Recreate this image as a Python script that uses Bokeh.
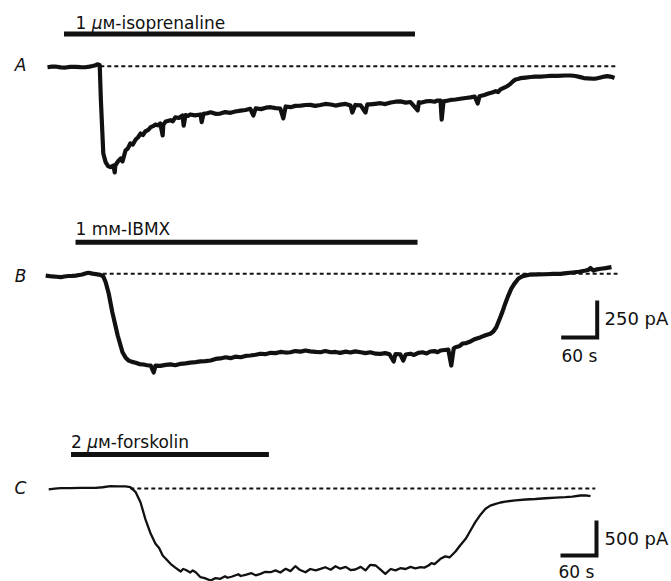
from bokeh.plotting import figure
from bokeh.models import Range1d
from bokeh.embed import file_html
from bokeh.resources import INLINE
from bokeh.core.properties import value

# ---------------- data (time in s, membrane current in pA) ----------------
# Trace A: 1 uM isoprenaline
a_t = [0, 7, 13, 22, 30, 38, 47, 55, 63, 70, 75, 80, 83, 87,
       89, 93, 97, 101, 105, 110, 112, 113, 118, 122, 125, 130, 134, 138, 142, 147,
       151, 155, 159, 163, 168, 172, 176, 180, 184, 188, 192, 193, 197, 205, 209,
       213, 219, 225, 227, 230, 234, 238, 246, 255, 257, 260, 266, 272, 280, 288,
       296, 305, 313, 322, 330, 338, 343, 347, 356, 364, 372, 380, 388, 393, 397,
       405, 413, 422, 430, 438, 446, 455, 463, 472, 480, 488, 497, 505, 508, 513,
       522, 530, 533, 538, 546, 555, 563, 572, 580, 588, 597, 605, 617, 619, 622,
       630, 638, 645, 650, 655, 657, 660, 666, 672, 680, 688, 697, 705, 712, 717,
       720, 728, 735, 741, 747, 751, 755, 763, 768, 772, 776, 780, 784, 788, 797,
       805, 813, 822, 830, 838, 850, 863, 872, 880, 888, 894, 900, 910, 916, 922,
       928, 933, 940, 945]
a_i = [-7, -3, -2, -8, -9, -5, -4, -6, -7, -3, 1, 6, 13, 8,
       -232, -590, -650, -675, -682, -671, -718, -671, -640, -624, -644, -570, -555, -522, -530, -495,
       -480, -455, -465, -441, -430, -412, -405, -394, -400, -387, -468, -395, -374, -365, -372,
       -345, -350, -333, -401, -330, -336, -326, -332, -326, -378, -322, -318, -311, -322, -320,
       -310, -315, -306, -300, -296, -288, -333, -285, -290, -280, -277, -283, -286, -353, -272,
       -277, -268, -266, -262, -261, -268, -262, -255, -259, -266, -260, -255, -265, -313, -262,
       -265, -313, -258, -258, -254, -250, -256, -245, -240, -238, -246, -242, -298, -243, -247,
       -238, -235, -240, -232, -232, -361, -238, -233, -228, -225, -220, -215, -211, -205, -252,
       -203, -195, -185, -178, -169, -175, -157, -142, -130, -117, -102, -90, -86, -81, -77,
       -73, -71, -70, -68, -66, -65, -63, -63, -66, -74, -80, -82, -85, -82, -76,
       -70, -67, -72, -79]

# Trace B: 1 mM IBMX
b_t = [-3, 8, 15, 22, 28, 35, 41, 47, 53, 58, 63, 68, 73, 78, 83, 88,
       93, 97, 102, 108, 117, 125, 130, 135, 141, 147, 153, 160, 166, 172, 177,
       180, 188, 197, 205, 213, 222, 230, 238, 247, 255, 263, 272, 280, 288, 297,
       305, 313, 322, 330, 338, 347, 355, 363, 372, 380, 388, 397, 405, 413, 422,
       430, 438, 447, 455, 463, 472, 480, 488, 497, 505, 513, 522, 530, 538, 547,
       555, 563, 570, 577, 580, 588, 593, 597, 605, 611, 618, 625, 632, 638, 645,
       650, 655, 662, 668, 673, 677, 680, 686, 692, 698, 705, 713, 722, 730, 738,
       743, 748, 753, 758, 763, 768, 773, 778, 785, 792, 805, 818, 830, 843, 855,
       865, 875, 886, 897, 902, 905, 910, 916, 922, 930, 940]
b_i = [-12, -18, -20, -23, -18, -15, -14, -12, -8, -5, 2, 7, 3, -1, -4, -7,
       -18, -57, -133, -259, -417, -530, -565, -586, -595, -601, -610, -613, -618, -620, -667,
       -620, -622, -615, -612, -618, -608, -605, -600, -597, -592, -590, -586, -575, -572, -564,
       -570, -560, -564, -555, -552, -547, -540, -543, -534, -536, -528, -532, -530, -522, -526,
       -518, -524, -528, -530, -522, -530, -528, -534, -526, -532, -524, -530, -536, -530, -540,
       -541, -536, -544, -593, -542, -545, -586, -545, -540, -548, -534, -530, -538, -525, -522,
       -530, -518, -515, -512, -620, -505, -496, -490, -471, -468, -457, -440, -428, -415, -405,
       -390, -361, -310, -259, -200, -147, -100, -68, -32, -16, -5, -4, -3, -1, 0,
       5, 9, 14, 22, 28, 39, 22, 30, 34, 38, 45]

# Trace C: 2 uM forskolin
c_t = [2, 12, 22, 38, 55, 68, 80, 92, 105, 118, 130, 138, 147, 155, 163, 172,
       180, 186, 192, 198, 205, 213, 222, 226, 230, 238, 242, 247, 255, 262, 272,
       280, 288, 296, 300, 308, 318, 322, 330, 340, 347, 355, 363, 372, 380, 388,
       397, 405, 413, 420, 430, 438, 447, 455, 463, 472, 480, 488, 497, 505, 513,
       522, 530, 538, 547, 555, 563, 572, 580, 588, 597, 605, 613, 622, 628, 635,
       640, 645, 655, 663, 670, 680, 688, 697, 705, 713, 722, 730, 738, 747, 755,
       763, 780, 797, 813, 830, 847, 863, 875, 888, 897, 905]
c_i = [-14, -2, 4, 6, 10, 8, 10, 18, 33, 30, 29, 19, -53, -196, -433, -647,
       -790, -850, -957, -1010, -1076, -1130, -1186, -1150, -1161, -1200, -1170, -1196, -1267, -1280, -1314,
       -1280, -1290, -1255, -1275, -1257, -1225, -1250, -1233, -1210, -1240, -1219, -1190, -1196, -1170, -1200,
       -1147, -1180, -1110, -1160, -1196, -1150, -1170, -1147, -1125, -1160, -1110, -1145, -1120, -1165, -1157,
       -1120, -1170, -1090, -1100, -1160, -1219, -1150, -1170, -1139, -1150, -1120, -1140, -1124, -1130, -1100,
       -1065, -1080, -1004, -970, -985, -900, -810, -719, -600, -481, -370, -290, -245, -219, -200,
       -186, -170, -157, -150, -139, -130, -124, -115, -100, -98, -110]

panel_letters = ["A", "B", "C"]
drug_number = ["1 ", "1 mᴍ-IBMX", "2 "]
drug_on = [27.5, 46.7, 39.2]      # s
drug_off = [612.5, 616.7, 369.0]  # s
zero_start = [88, 92, 138]        # s, dashed zero-current line
zero_end = [950, 950, 913]
scale_time = 60                   # s
scale_current_b = 250             # pA
scale_current_c = 500             # pA

# ---------------- layout (screen pixels) ----------------
W, H = 671, 581
PX_PER_S = 0.6
T0_PX = 47.0
base_py = {"default": 65.7, "B": 273.3, "C": 488.0}
px_per_pa = {"default": 0.148, "B": 0.148, "C": 0.07}


def t_of(px):
    return (px - T0_PX) / PX_PER_S


def y_of(name, py):
    return (base_py[name] - py) / px_per_pa[name]


def yrange(name):
    return Range1d(y_of(name, H), y_of(name, 0))


p = figure(width=W, height=H, output_backend="svg", toolbar_location=None,
           x_range=Range1d(t_of(0), t_of(W)), y_range=yrange("default"),
           x_axis_location=None, y_axis_location=None, min_border=0)
p.extra_y_ranges = {"B": yrange("B"), "C": yrange("C")}
p.grid.visible = False
p.outline_line_color = None
p.background_fill_color = "white"
p.border_fill_color = "white"

FONT = value("DejaVu Sans")
INK = "#111111"
names = ["default", "B", "C"]

# traces
p.line(a_t, a_i, line_color=INK, line_width=4.2, line_join="round", y_range_name="default")
p.line(b_t, b_i, line_color=INK, line_width=4.2, line_join="round", y_range_name="B")
p.line(c_t, c_i, line_color=INK, line_width=2.3, line_join="round", y_range_name="C")

# zero-current dashed lines
for k, nm in enumerate(names):
    p.segment(x0=[zero_start[k]], y0=[0], x1=[zero_end[k]], y1=[0], line_color=INK,
              line_width=2, line_dash="4 3", y_range_name=nm)

# drug application bars
bar_py = [33.5, 241.7, 454.0]
for k, nm in enumerate(names):
    yb = y_of(nm, bar_py[k])
    p.segment(x0=[drug_on[k]], y0=[yb], x1=[drug_off[k]], y1=[yb], line_color=INK,
              line_width=5, line_cap="butt", y_range_name=nm)

# drug labels
lab_px = [75.0, 75.0, 70.5]
lab_py = [22.5, 228.5, 441.5]
rest = ["ᴍ-isoprenaline", None, "ᴍ-forskolin"]
for k, nm in enumerate(names):
    x = t_of(lab_px[k])
    y = y_of(nm, lab_py[k])
    common = dict(text_font=FONT, text_font_size="17px", text_color=INK,
                  text_baseline="alphabetic", text_align="left", y_range_name=nm)
    p.text(x=[x], y=[y], text=[drug_number[k]], **common)
    if rest[k] is not None:
        p.text(x=[x], y=[y], text=["μ"], x_offset=16.2, text_font_style="italic", **common)
        p.text(x=[x], y=[y], text=[rest[k]], x_offset=27.0, **common)

# panel letters
let_py = [64.0, 275.0, 487.5]
for k, nm in enumerate(names):
    p.text(x=[t_of(20)], y=[y_of(nm, let_py[k])], text=[panel_letters[k]], text_font=FONT,
           text_font_size="17px", text_font_style="italic", text_color=INK,
           text_align="center", text_baseline="middle", y_range_name=nm)


# scale bars
def scale_bar(nm, corner_px, corner_py, cur, cur_label, lab_mid_py, time_lab_px, time_base_py):
    tc = t_of(corner_px)
    yc = y_of(nm, corner_py)
    p.line([tc - scale_time, tc, tc], [yc, yc, yc + cur], line_color=INK, line_width=4,
           line_join="miter", y_range_name=nm)
    p.text(x=[t_of(604)], y=[y_of(nm, lab_mid_py)], text=[cur_label], text_font=FONT,
           text_font_size="18px", text_color=INK, text_align="left", text_baseline="middle",
           y_range_name=nm)
    p.text(x=[t_of(time_lab_px)], y=[y_of(nm, time_base_py)], text=[f"{scale_time} s"],
           text_font=FONT, text_font_size="17px", text_color=INK, text_align="left",
           text_baseline="alphabetic", y_range_name=nm)


scale_bar("B", 596.7, 337.0, scale_current_b, f"{scale_current_b} pA", 318.0, 561.0, 355.0)
scale_bar("C", 596.0, 555.0, scale_current_c, f"{scale_current_c} pA", 538.0, 558.0, 571.0)

open("out.html", "w").write(file_html(p, INLINE))
